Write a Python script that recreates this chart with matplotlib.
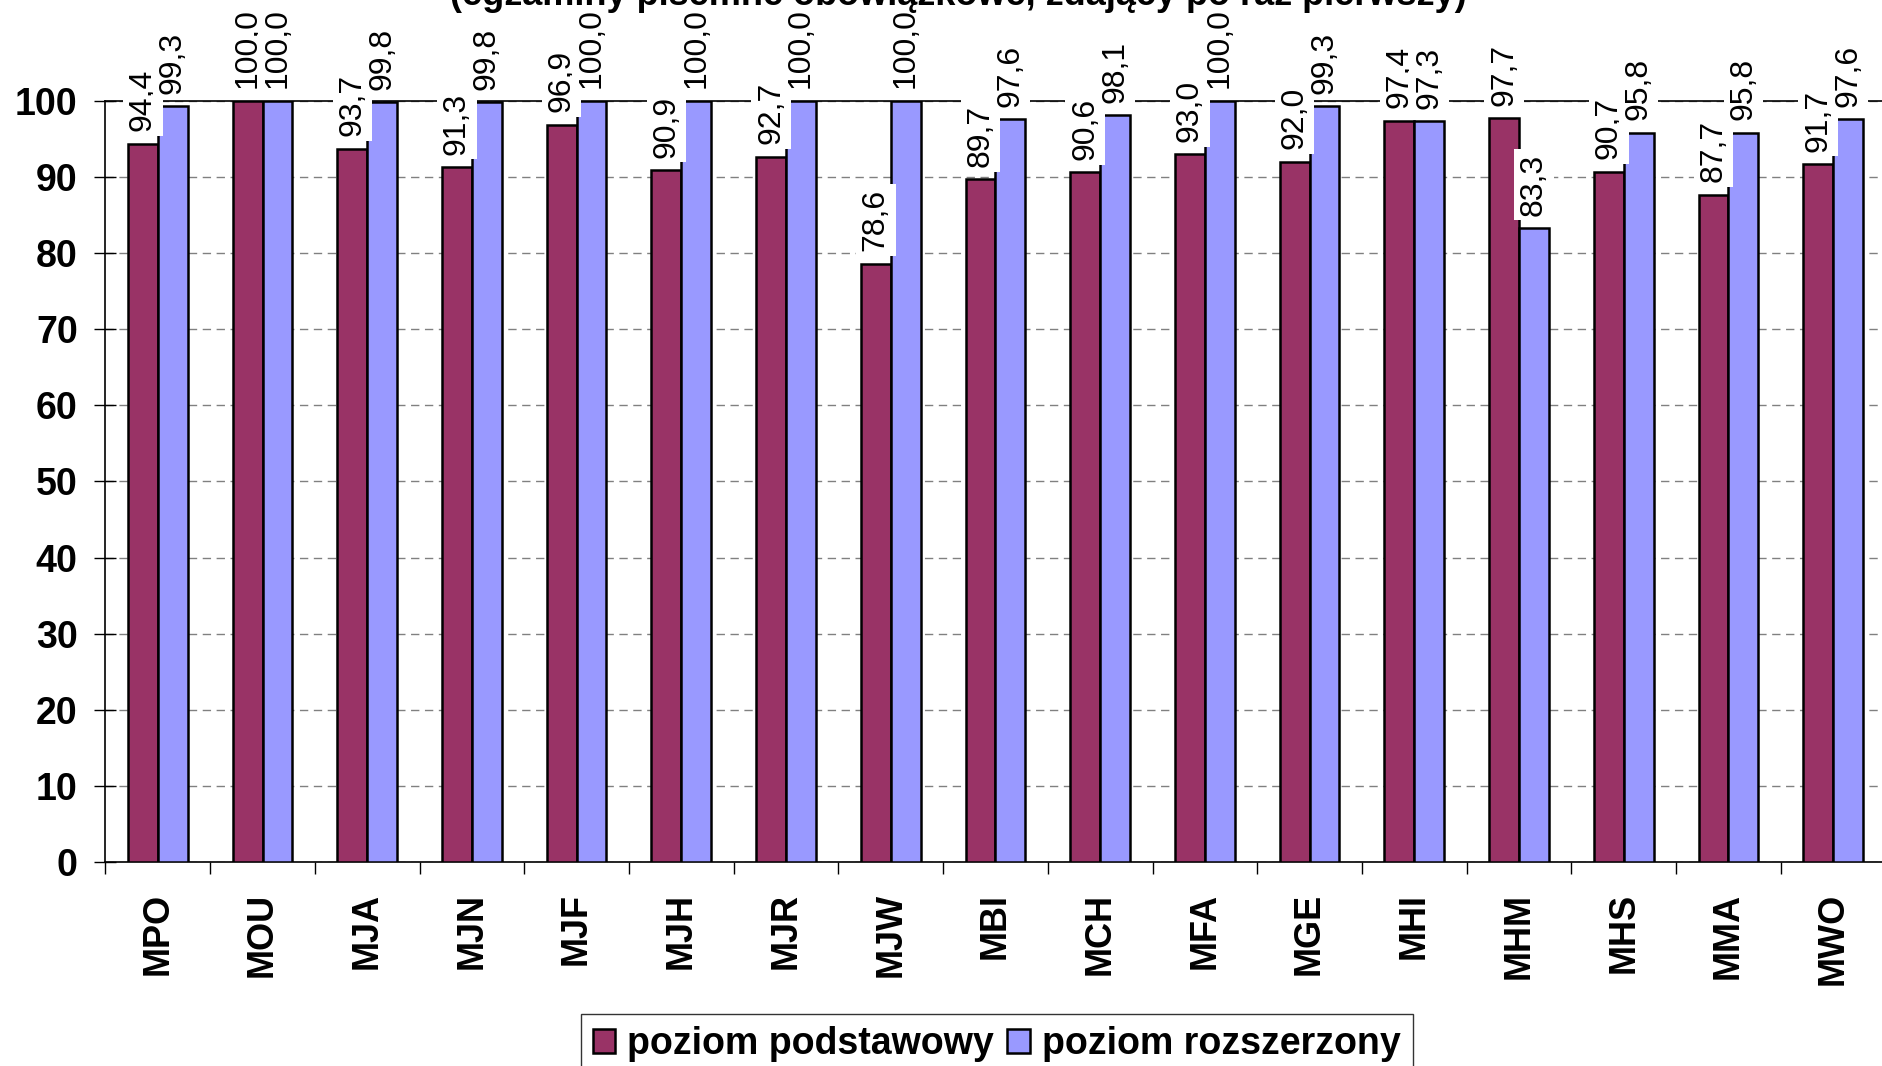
import matplotlib
matplotlib.use("Agg")
import matplotlib.pyplot as plt
import numpy as np

plt.rcParams['font.family'] = ['Liberation Sans', 'DejaVu Sans']

# data
categories = ["MPO", "MOU", "MJA", "MJN", "MJF", "MJH", "MJR", "MJW", "MBI",
              "MCH", "MFA", "MGE", "MHI", "MHM", "MHS", "MMA", "MWO"]
podstawowy = [94.4, 100.0, 93.7, 91.3, 96.9, 90.9, 92.7, 78.6, 89.7,
              90.6, 93.0, 92.0, 97.4, 97.7, 90.7, 87.7, 91.7]
rozszerzony = [99.3, 100.0, 99.8, 99.8, 100.0, 100.0, 100.0, 100.0, 97.6,
               98.1, 100.0, 99.3, 97.3, 83.3, 95.8, 95.8, 97.6]
series_names = ["poziom podstawowy", "poziom rozszerzony"]
title = "(egzaminy pisemne obowiązkowe, zdający po raz pierwszy)"
yticks = [0, 10, 20, 30, 40, 50, 60, 70, 80, 90, 100]

c_pod = "#993366"
c_roz = "#9999FF"

fig = plt.figure(figsize=(18.83, 10.66), dpi=100)
ax = fig.add_axes([0.0560, 0.1914, 0.9453, 0.7139])

x = np.arange(len(categories))
w = 0.285
b1 = ax.bar(x - w / 2, podstawowy, w, color=c_pod, edgecolor="black", linewidth=1.8,
            label=series_names[0], zorder=3)
b2 = ax.bar(x + w / 2, rozszerzony, w, color=c_roz, edgecolor="black", linewidth=1.8,
            label=series_names[1], zorder=3)

def lab(v):
    return ("%.1f" % v).replace(".", ",")

# value labels on white boxes, second series drawn over the first
for xs, vals, z in [(x - w / 2, podstawowy, 5), (x + w / 2, rozszerzony, 6)]:
    for xi, v in zip(xs, vals):
        t = ax.annotate(lab(v), (xi, v), xytext=(0, 9), textcoords="offset points",
                        rotation=90, ha="center", va="bottom", fontsize=23,
                        bbox=dict(boxstyle="square,pad=0.15", fc="white", ec="none"),
                        zorder=z, annotation_clip=False)
        t.set_path_effects([])

ax.set_xlim(-0.5, len(categories) - 0.5)
ax.set_ylim(0, 100)
ax.set_yticks(yticks)
ax.set_yticklabels([str(t) for t in yticks], fontsize=27, fontweight="bold")
ax.tick_params(axis="y", direction="inout", length=16, width=1, pad=12)

ax.set_xticks(x)
ax.set_xticklabels(categories, rotation=90, fontsize=26, fontweight="bold")
ax.set_xticks(np.arange(len(categories) + 1) - 0.5, minor=True)
ax.tick_params(axis="x", which="major", length=0, pad=22)
ax.tick_params(axis="x", which="minor", direction="out", length=8.6, width=1)

ax.grid(axis="y", color="#808080", linestyle=(0, (6, 4)), linewidth=1, zorder=0)
ax.set_axisbelow(True)
for s in ["left", "bottom", "top", "right"]:
    ax.spines[s].set_color("black")
    ax.spines[s].set_linewidth(1.2)

fig.text(958 / 1883, 1 - 5 / 1066, title, ha="center", va="baseline",
         fontsize=26, fontweight="bold")

leg = fig.legend(handles=[b1, b2], labels=series_names, loc="upper left",
                 bbox_to_anchor=(581 / 1883, 1 - 1014 / 1066), ncol=2,
                 prop=dict(size=27, weight="bold"), frameon=True, fancybox=False,
                 handlelength=0.6, handleheight=0.6, handletextpad=0.32,
                 columnspacing=0.35, borderpad=0.32, borderaxespad=0)
leg.get_frame().set_edgecolor("black")
leg.get_frame().set_linewidth(1)

plt.savefig("out.png", dpi=100)
